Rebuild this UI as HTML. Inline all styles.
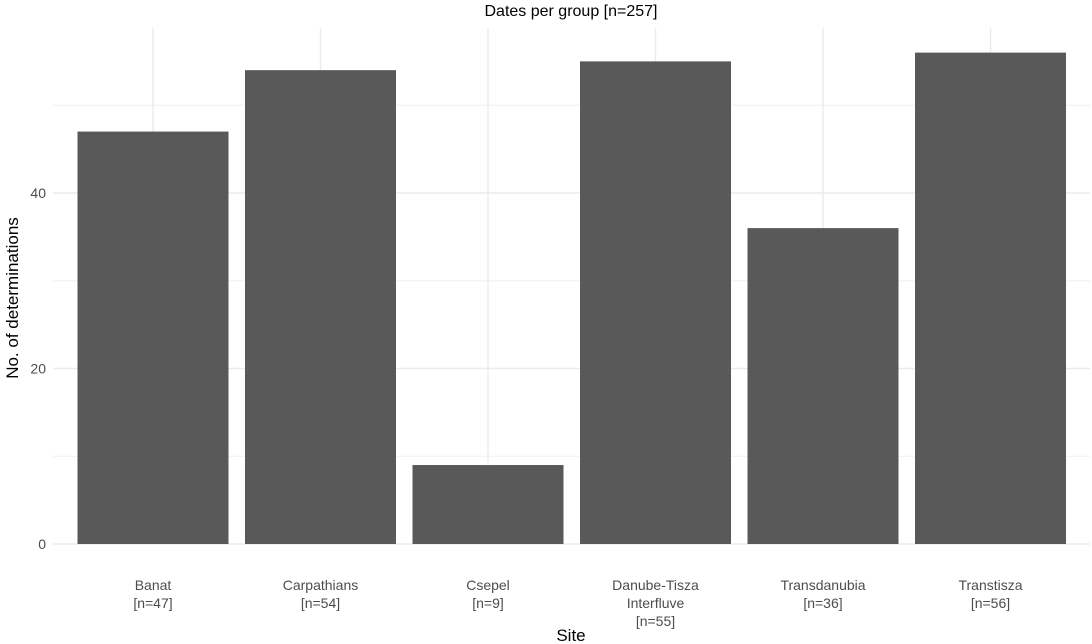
<!DOCTYPE html>
<html><head><meta charset="utf-8"><style>
body{margin:0;background:#fff;}
svg{display:block;font-family:"Liberation Sans",Arial,sans-serif;}
</style></head><body>
<svg id="chart" width="1092" height="644">
<text x="571" y="16" font-size="16" text-anchor="middle" fill="#000">Dates per group [n=257]</text>
<g id="grid"></g>
<g id="bars"></g>
<g id="labels"></g>
<text x="571" y="641" font-size="17" text-anchor="middle" fill="#000">Site</text>
<text transform="translate(18,298) rotate(-90)" font-size="17" text-anchor="middle" fill="#000">No. of determinations</text>
</svg>
<script>
const categories=[["Banat","[n=47]"],["Carpathians","[n=54]"],["Csepel","[n=9]"],["Danube-Tisza","Interfluve","[n=55]"],["Transdanubia","[n=36]"],["Transtisza","[n=56]"]];
const values=[47,54,9,55,36,56];
const yTicks=[0,20,40];
const yMinor=[10,30,50];
const ns="http://www.w3.org/2000/svg";
function y(v){return 544-v*8.775;}
function x(i){return 153+i*167.5;}
const bw=151, plotTop=28, plotLeft=53, plotRight=1090;
const grid=document.getElementById('grid'),bars=document.getElementById('bars'),labels=document.getElementById('labels');
function mk(tag,attrs,parent){const e=document.createElementNS(ns,tag);for(const k in attrs)e.setAttribute(k,attrs[k]);parent.appendChild(e);return e;}
yMinor.forEach(v=>{const l=mk('line',{x1:plotLeft,x2:plotRight,y1:y(v),y2:y(v),stroke:'#f0f0f0','stroke-width':1},grid);

});
yTicks.forEach(v=>{const l=mk('line',{x1:plotLeft,x2:plotRight,y1:y(v),y2:y(v),stroke:'#ebebeb','stroke-width':1.4},grid);


const t=mk('text',{x:46,y:y(v)+5,'font-size':14,'text-anchor':'end',fill:'#4d4d4d'},labels);t.textContent=v;

});
categories.forEach((c,i)=>{const l=mk('line',{x1:x(i),x2:x(i),y1:plotTop,y2:544,stroke:'#ebebeb','stroke-width':1.4},grid);

});
values.forEach((v,i)=>{const r=mk('rect',{x:x(i)-bw/2,y:y(v),width:bw,height:544-y(v),fill:'#595959'},bars);

});
categories.forEach((c,i)=>{c.forEach((s,j)=>{const t=mk('text',{x:x(i),y:590+j*18,'font-size':14,'text-anchor':'middle',fill:'#4d4d4d'},labels);t.textContent=s;

});});
</script>
</body></html>
